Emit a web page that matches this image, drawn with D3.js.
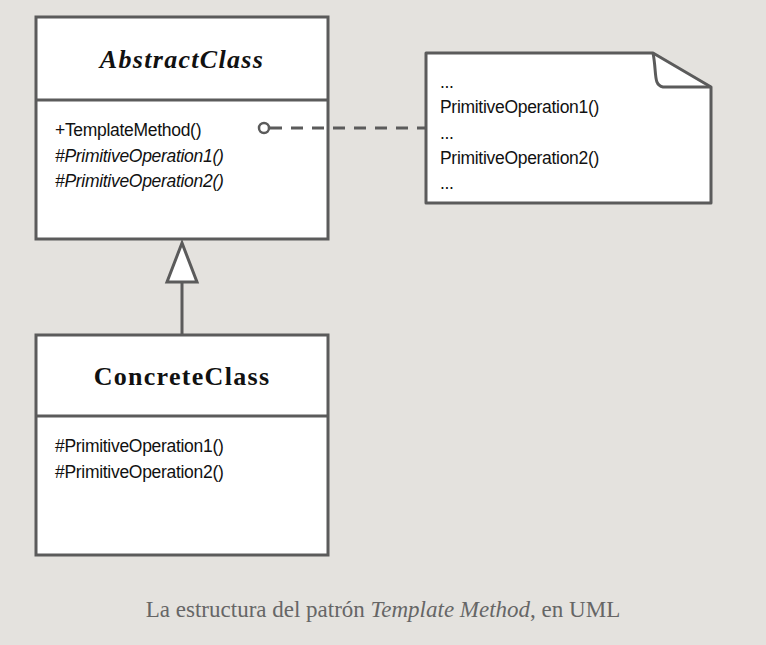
<!DOCTYPE html>
<html><head><meta charset="utf-8">
<script src="https://cdn.jsdelivr.net/npm/d3@7"></script>
<style>body{margin:0;background:#e4e2de}</style>
</head><body><div id="uml"></div>
<script>
// diagram content
const classNames = ["AbstractClass", "ConcreteClass"];
const classItalic = [true, false];
const abstractMethods = ["+TemplateMethod()", "#PrimitiveOperation1()", "#PrimitiveOperation2()"];
const abstractMethodItalic = [false, true, true];
const concreteMethods = ["#PrimitiveOperation1()", "#PrimitiveOperation2()"];
const noteLines = ["...", "PrimitiveOperation1()", "...", "PrimitiveOperation2()", "..."];

const W = 766, H = 645, stroke = "#5b5b5b";
const svg = d3.select("#uml").append("svg").attr("width", W).attr("height", H);
svg.append("rect").attr("width", W).attr("height", H).attr("fill", "#e4e2de");

const boxes = [
  {x: 36, y: 17, w: 292, h: 222, head: 83, methods: abstractMethods, it: abstractMethodItalic},
  {x: 36, y: 335, w: 292, h: 220, head: 81, methods: concreteMethods, it: [false, false]}
];

boxes.forEach((b, i) => {
  const g = svg.append("g");
  g.append("rect").attr("x", b.x).attr("y", b.y).attr("width", b.w).attr("height", b.h)
    .attr("fill", "#fff").attr("stroke", stroke).attr("stroke-width", 3);
  g.append("line").attr("x1", b.x).attr("x2", b.x + b.w).attr("y1", b.y + b.head).attr("y2", b.y + b.head)
    .attr("stroke", stroke).attr("stroke-width", 3);
  g.append("text").attr("x", b.x + b.w / 2).attr("y", b.y + b.head / 2 + 9)
    .attr("text-anchor", "middle").attr("font-family", "'Liberation Serif', serif")
    .attr("font-weight", "bold").attr("font-style", classItalic[i] ? "italic" : "normal")
    .attr("font-size", 26).attr("letter-spacing", 1.3).attr("fill", "#111").text(classNames[i]);
  g.selectAll("text.m").data(b.methods).join("text").attr("class", "m")
    .attr("x", b.x + 19).attr("y", (d, j) => b.y + b.head + 36 + j * 25.5)
    .attr("font-family", "'Liberation Sans', Arial, sans-serif").attr("font-size", 17.5)
    .attr("letter-spacing", -0.3)
    .attr("font-style", (d, j) => b.it[j] ? "italic" : "normal").attr("fill", "#111")
    .text(d => d);
});

// generalization arrow
svg.append("line").attr("x1", 182).attr("x2", 182).attr("y1", 282).attr("y2", 335)
  .attr("stroke", stroke).attr("stroke-width", 3);
svg.append("path").attr("d", "M182,243 L167,282 L197,282 Z")
  .attr("fill", "#fff").attr("stroke", stroke).attr("stroke-width", 3);

// note
const nx = 426, ny = 53, nw = 285, nh = 150, fold = 58;
svg.append("path")
  .attr("d", `M${nx},${ny} L${nx + nw - fold},${ny} L${nx + nw},${ny + 34} L${nx + nw},${ny + nh} L${nx},${ny + nh} Z`)
  .attr("fill", "#fff").attr("stroke", stroke).attr("stroke-width", 3).attr("stroke-linejoin", "round");
svg.append("path")
  .attr("d", `M${nx + nw - fold},${ny} C${nx + nw - fold + 4},${ny + 20} ${nx + nw - fold},${ny + 32} ${nx + nw - fold + 10},${ny + 34} L${nx + nw},${ny + 34}`)
  .attr("fill", "none").attr("stroke", stroke).attr("stroke-width", 3);
const noteY = d3.scaleLinear().domain([0, 4]).range([ny + 35, ny + 136]);
svg.selectAll("text.n").data(noteLines).join("text").attr("class", "n")
  .attr("x", nx + 14).attr("y", (d, i) => noteY(i))
  .attr("font-family", "'Liberation Sans', Arial, sans-serif").attr("font-size", 17.5)
  .attr("letter-spacing", -0.3).attr("fill", "#111")
  .text(d => d);

// dashed connector
svg.append("line").attr("x1", 270).attr("x2", nx).attr("y1", 128).attr("y2", 128)
  .attr("stroke", stroke).attr("stroke-width", 3).attr("stroke-dasharray", "12,9");
svg.append("circle").attr("cx", 264).attr("cy", 128).attr("r", 5)
  .attr("fill", "#fff").attr("stroke", stroke).attr("stroke-width", 2.5);

// caption
const cap = svg.append("text").attr("x", 383).attr("y", 617).attr("text-anchor", "middle")
  .attr("font-family", "'Liberation Serif', serif").attr("font-size", 23).attr("fill", "#666");
cap.append("tspan").text("La estructura del patrón ");
cap.append("tspan").attr("font-style", "italic").text("Template Method");
cap.append("tspan").text(", en UML");
</script></body></html>
